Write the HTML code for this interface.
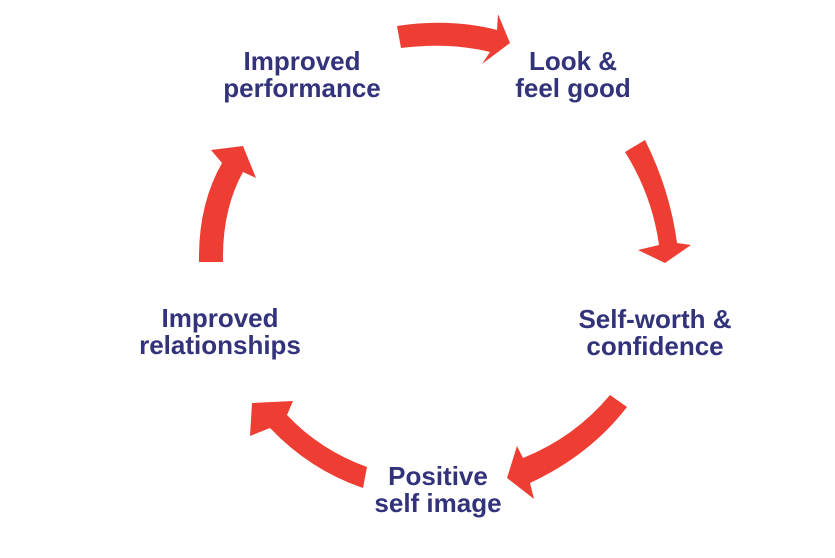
<!DOCTYPE html>
<html><head><style>
body{margin:0;background:#fff;}
svg{display:block}
text{font-family:"Liberation Sans",sans-serif;font-weight:bold;font-size:26px;fill:#33337c;text-anchor:middle}
</style></head><body>
<svg width="835" height="558" viewBox="0 0 835 558">
<g fill="#ee3e33">
<path d="M397,26 Q450,18 497,30 L498,14 L510,43 L482,64 L490,52 Q450,42 401,48 Z"/>
<path d="M625,152 L645,140 Q670,190 677,243 L691,245 L665,263 L638,250 L659,245 Q652,195 625,152 Z"/>
<path d="M610,395 L627,407 Q590,455 530,483 L534,499 L507,478 L517,446 L523,458 Q575,437 610,395 Z"/>
<path d="M367,467 Q320,450 287,415 L293,401 L252,403 L250,436 L270,428 Q310,470 363,488 Z"/>
<path d="M199,262 Q198,205 222,163 L211,150 L243,146 L256,178 L243,172 Q222,210 223,262 Z"/>
</g>
<text x="302" y="70">Improved</text><text x="302" y="97">performance</text>
<text x="573" y="70">Look &amp;</text><text x="573" y="97">feel good</text>
<text x="655" y="328">Self-worth &amp;</text><text x="655" y="355">confidence</text>
<text x="438" y="485">Positive</text><text x="438" y="512">self image</text>
<text x="220" y="327">Improved</text><text x="220" y="354">relationships</text>
</svg>
</body></html>
